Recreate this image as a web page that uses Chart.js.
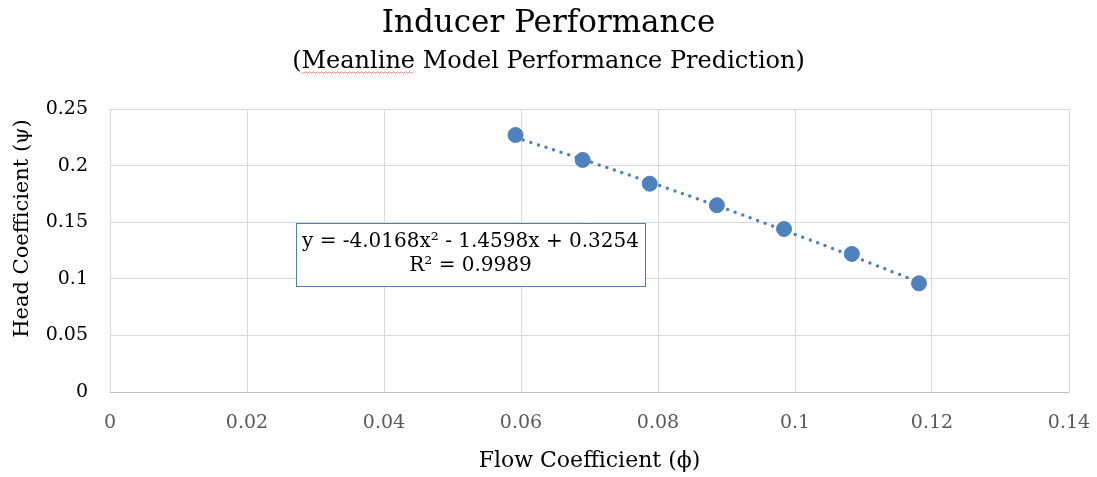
<!DOCTYPE html>
<html>
<head>
<meta charset="utf-8">
<title>Inducer Performance</title>
<script src="https://cdn.jsdelivr.net/npm/chart.js@4/dist/chart.umd.min.js"></script>
<style>
    html, body { margin: 0; padding: 0; background: #fff; }
    #wrap { width: 1097px; height: 477px; }
</style>
</head>
<body>
<div id="wrap"><canvas id="myChart" width="1097" height="477"></canvas></div>
<script>
// Measured points (flow coefficient vs head coefficient)
var flowCoef = [0.0592, 0.0690, 0.0788, 0.0886, 0.0984, 0.1083, 0.1181];
var headCoef = [0.227, 0.205, 0.184, 0.165, 0.144, 0.122, 0.096];

// Polynomial trendline values at the same flow coefficients
var trendHead = [0.2249, 0.2055, 0.1854, 0.1645, 0.1429, 0.1202, 0.0970];

var xTicks = [0, 0.02, 0.04, 0.06, 0.08, 0.1, 0.12, 0.14];
var yTicks = [0, 0.05, 0.1, 0.15, 0.2, 0.25];

var subtitleText = '(Meanline Model Performance Prediction)';
var yTitle = 'Head Coefficient (\u03c8)';
var eqnLines = ['y = -4.0168x\u00b2 - 1.4598x + 0.3254', 'R\u00b2 = 0.9989'];

(function () {
    'use strict';

    var FONT = "'DejaVu Serif', 'Liberation Serif', serif";
    var BLUE = '#4f81bd';
    var GRID = '#d9d9d9';

    function pairs(xs, ys) {
        var out = [];
        for (var i = 0; i < xs.length; i++) out.push({ x: xs[i], y: ys[i] });
        return out;
    }

    // y title, equation box, spell-check squiggle
    var extras = {
        id: 'extras',
        afterDatasetsDraw: function (chart) {
            var ctx = chart.ctx;
            var a = chart.chartArea;
            var bx = a.left + 186, by = a.top + 114, bw = 349, bh = 63;

            // y axis title (sits a bit above the plot centre, as in Excel)
            ctx.save();
            ctx.translate(23, a.top + (a.bottom - a.top) / 2 - 22);
            ctx.rotate(-Math.PI / 2);
            ctx.fillStyle = '#000';
            ctx.font = '21px ' + FONT;
            ctx.textAlign = 'center';
            ctx.textBaseline = 'middle';
            ctx.fillText(yTitle, 0, 0);
            ctx.restore();

            ctx.save();
            ctx.fillStyle = '#fff';
            ctx.fillRect(bx, by, bw, bh);
            ctx.strokeStyle = '#4a7ebb';
            ctx.lineWidth = 1;
            ctx.strokeRect(bx + 0.5, by + 0.5, bw, bh);

            ctx.fillStyle = '#000';
            ctx.font = '20px ' + FONT;
            ctx.textAlign = 'center';
            ctx.textBaseline = 'middle';
            ctx.fillText(eqnLines[0], bx + bw / 2, by + 19);
            ctx.fillText(eqnLines[1], bx + bw / 2, by + 43);
            ctx.restore();

            // red squiggle under "Meanline"
            ctx.save();
            ctx.font = '24px ' + FONT;
            var full = ctx.measureText(subtitleText).width;
            var sx = chart.width / 2 - full / 2 + ctx.measureText('(').width;
            var ex = sx + ctx.measureText('Meanline').width;
            var sy = 72;
            ctx.strokeStyle = 'rgba(235,80,80,0.65)';
            ctx.lineWidth = 1;
            ctx.beginPath();
            ctx.moveTo(sx, sy);
            for (var k = 1; sx + k * 2 <= ex; k++) {
                ctx.lineTo(sx + k * 2, sy + (k % 2 ? 1.3 : -0.3));
            }
            ctx.stroke();
            ctx.restore();
        }
    };

    var config = {
        type: 'scatter',
        data: {
            datasets: [{
                label: 'Trendline',
                type: 'line',
                data: pairs(flowCoef, trendHead),
                borderColor: BLUE,
                borderWidth: 3.5,
                borderDash: [0, 8],
                borderCapStyle: 'round',
                pointRadius: 0,
                tension: 0.4,
                fill: false,
                order: 2
            }, {
                label: 'Head Coefficient',
                data: pairs(flowCoef, headCoef),
                backgroundColor: BLUE,
                borderColor: BLUE,
                pointRadius: 7.5,
                pointHoverRadius: 7.5,
                order: 1
            }]
        },
        options: {
            responsive: false,
            animation: false,
            layout: { padding: 0 },
            plugins: {
                legend: { display: false },
                tooltip: { enabled: false },
                title: {
                    display: true,
                    text: 'Inducer Performance',
                    color: '#000',
                    font: { family: FONT, size: 31, weight: 'normal', lineHeight: 1.2 },
                    padding: { top: 5, bottom: 0 }
                },
                subtitle: {
                    display: true,
                    text: subtitleText,
                    color: '#000',
                    font: { family: FONT, size: 24, weight: 'normal', lineHeight: 1.2 },
                    padding: { top: 5, bottom: 33 }
                }
            },
            scales: {
                x: {
                    type: 'linear',
                    min: 0,
                    max: 0.14,
                    afterBuildTicks: function (s) {
                        s.ticks = xTicks.map(function (v) { return { value: v }; });
                    },
                    afterFit: function (s) {
                        s.height = 85;
                        s.paddingLeft = 0;
                        s.paddingRight = 28;
                    },
                    grid: { color: GRID, lineWidth: 1, drawTicks: false },
                    border: { display: false },
                    ticks: {
                        color: '#595959',
                        padding: 20,
                        maxRotation: 0,
                        font: { family: FONT, size: 19 },
                        callback: function (v) { return String(+v.toFixed(2)); }
                    },
                    title: {
                        display: true,
                        text: 'Flow Coefficient (\u03d5)',
                        color: '#000',
                        font: { family: FONT, size: 22 },
                        padding: { top: 0, bottom: 3 }
                    }
                },
                y: {
                    type: 'linear',
                    min: 0,
                    max: 0.25,
                    afterBuildTicks: function (s) {
                        s.ticks = yTicks.map(function (v) { return { value: v }; });
                    },
                    afterFit: function (s) { s.width = 110; },
                    grid: {
                        color: function (c) { return c.tick && c.tick.value === 0 ? '#bfbfbf' : GRID; },
                        lineWidth: 1,
                        drawTicks: false
                    },
                    border: { display: false },
                    ticks: {
                        color: '#000',
                        padding: 22,
                        font: { family: FONT, size: 19 },
                        callback: function (v) { return String(+v.toFixed(2)); }
                    },
                    title: { display: false }
                }
            }
        },
        plugins: [extras]
    };

    new Chart(document.getElementById('myChart'), config);
}());
</script>
</body>
</html>
